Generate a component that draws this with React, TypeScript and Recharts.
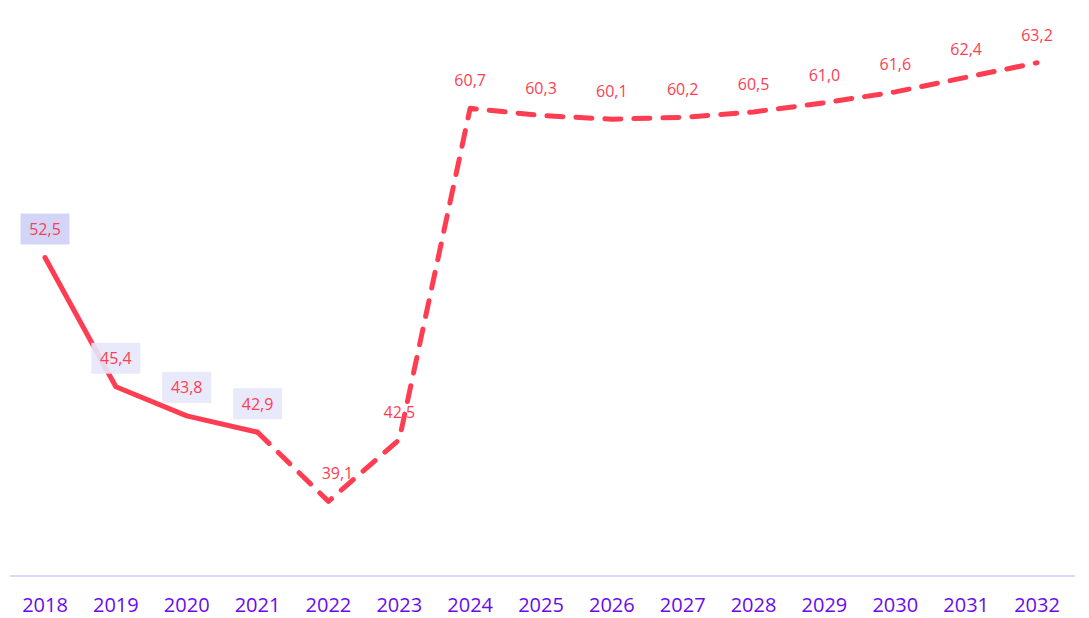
import {CartesianGrid, Line, LineChart, XAxis, YAxis} from 'recharts';

const years = ['2018', '2019', '2020', '2021', '2022', '2023', '2024', '2025', '2026', '2027', '2028', '2029', '2030', '2031', '2032'];
const actualValues = [52.5, 45.4, 43.8, 42.9, null, null, null, null, null, null, null, null, null, null, null];
const forecastValues = [null, null, null, 42.9, 39.1, 42.5, 60.7, 60.3, 60.1, 60.2, 60.5, 61.0, 61.6, 62.4, 63.2];

const data = years.map((year, i) => ({
  year,
  actual: actualValues[i],
  forecast: forecastValues[i],
}));

const RED = '#ff3d52';
const FONT = '"Open Sans", "Noto Sans", sans-serif';

const fmt = (v: number) => v.toFixed(1).replace('.', ',');

const ActualLabel = (props: any) => {
  const {x, y, value, index} = props;
  if (value == null) return null;
  const fill = index === 0 ? '#cdd0f5' : '#e5e7fa';
  return (
    <g>
      <rect x={x - 24.5} y={y - 44} width={49} height={31} fill={fill} opacity={0.9}/>
      <text x={x} y={y - 28.5} textAnchor="middle" dominantBaseline="central" fill={RED} fontSize={16} fontFamily={FONT}>
        {fmt(value)}
      </text>
    </g>
  );
};

const ForecastLabel = (props: any) => {
  const {x, y, value, index} = props;
  if (value == null || index === 3) return null;
  const dx = index === 4 ? 9 : 0;
  return (
    <text x={x + dx} y={y - 28} textAnchor="middle" dominantBaseline="central" fill={RED} fontSize={16} fontFamily={FONT}>
      {fmt(value)}
    </text>
  );
};

export default function App() {
  return (
    <div style={{position: 'absolute', left: 0, top: 0, background: '#fff'}}>
      <LineChart width={1089} height={618} data={data} margin={{top: 30, right: 14, left: 10, bottom: 0}}>
        <CartesianGrid horizontal={false} vertical={false}/>
        <YAxis hide domain={[35, 65]}/>
        <XAxis
          dataKey="year"
          height={42}
          padding={{left: 35, right: 38}}
          axisLine={{stroke: '#dcc4ff', strokeWidth: 1.5}}
          tickLine={false}
          tickMargin={16}
          tick={{fill: '#6a0af0', fontSize: 20, fontFamily: FONT}}
          interval={0}
        />
        <Line
          type="linear"
          dataKey="forecast"
          stroke={RED}
          strokeWidth={5}
          strokeDasharray="16 13"
          strokeLinecap="round"
          strokeLinejoin="round"
          dot={false}
          label={<ForecastLabel/>}
          isAnimationActive={false}
        />
        <Line
          type="linear"
          dataKey="actual"
          stroke={RED}
          strokeWidth={5}
          strokeLinecap="round"
          strokeLinejoin="round"
          dot={false}
          label={<ActualLabel/>}
          isAnimationActive={false}
        />
      </LineChart>
    </div>
  );
}
